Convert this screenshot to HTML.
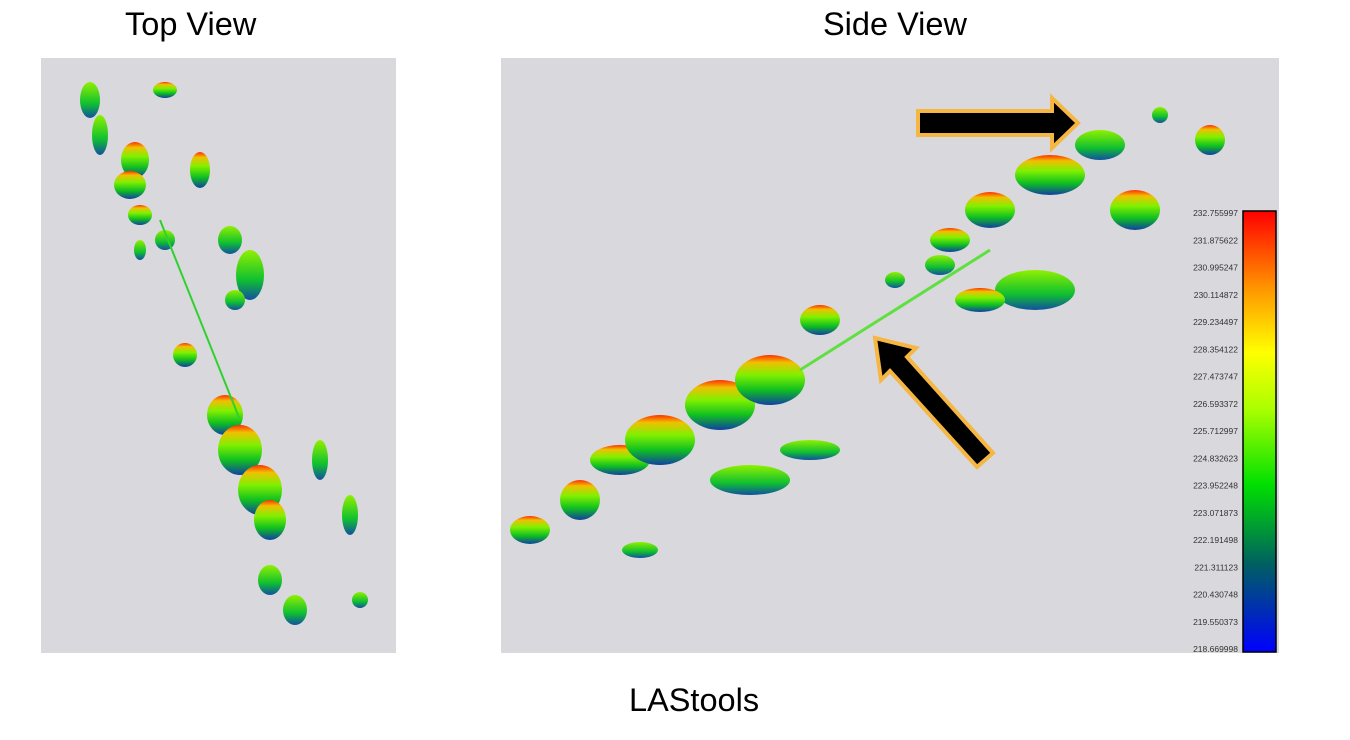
<!DOCTYPE html>
<html><head><meta charset="utf-8"><style>
body{margin:0;width:1350px;height:740px;background:#fff;font-family:"Liberation Sans",sans-serif;overflow:hidden;position:relative}
.t{position:absolute;font-size:32.5px;color:#000}
</style></head><body>
<div class="t" style="left:125px;top:6px">Top View</div>
<div class="t" style="left:823px;top:6px">Side View</div>
<div class="t" style="left:629px;top:682px">LAStools</div>
<svg id="s" width="1350" height="740" style="position:absolute;left:0;top:0">
<defs>
<linearGradient id="cb" x1="0" y1="1" x2="0" y2="0">
<stop offset="0" stop-color="#0000ff"/><stop offset="0.2" stop-color="#006060"/><stop offset="0.38" stop-color="#00e000"/><stop offset="0.55" stop-color="#aaff00"/><stop offset="0.68" stop-color="#ffff00"/><stop offset="0.82" stop-color="#ff9900"/><stop offset="1" stop-color="#ff0000"/></linearGradient>
<linearGradient id="bl" x1="0" y1="1" x2="0" y2="0">
<stop offset="0" stop-color="#1040a0"/><stop offset="0.3" stop-color="#10c020"/><stop offset="0.6" stop-color="#80f000"/><stop offset="0.85" stop-color="#f0c000"/><stop offset="1" stop-color="#ff3000"/></linearGradient>
<linearGradient id="bg" x1="0" y1="1" x2="0" y2="0">
<stop offset="0" stop-color="#1050a0"/><stop offset="0.4" stop-color="#10c030"/><stop offset="1" stop-color="#90f000"/></linearGradient>
</defs>
<rect x="41" y="58" width="355" height="595" fill="#d9d8dc"/>
<rect x="501" y="58" width="778" height="595" fill="#d9d8dc"/>
<g id="top"></g><g id="side"></g>
<line x1="160" y1="220" x2="240" y2="420" stroke="#30d030" stroke-width="2"/>
<line x1="800" y1="370" x2="990" y2="250" stroke="#60e040" stroke-width="3"/>
<rect x="1243" y="211" width="33" height="441" fill="url(#cb)" stroke="#000" stroke-width="1.5"/>
<g id="ticks" font-size="8.5" fill="#333" text-anchor="end"></g>
<polygon points="918,111 1052,111 1052,98 1078,123 1052,148 1052,135 918,135" fill="#000" stroke="#f5b642" stroke-width="4"/>
<polygon points="993,453 907,357 916,348 875,338 881,380 890,371 977,467" fill="#000" stroke="#f5b642" stroke-width="4"/>
</svg>
<script>
const tickLabels=["232.755997","231.875622","230.995247","230.114872","229.234497","228.354122","227.473747","226.593372","225.712997","224.832623","223.952248","223.071873","222.191498","221.311123","220.430748","219.550373","218.669998"];
const NS="http://www.w3.org/2000/svg";
const tg=document.getElementById('ticks');
tickLabels.forEach((l,i)=>{const t=document.createElementNS(NS,'text');


t.setAttribute('x',1238);t.setAttribute('y',216+i*(436/16));t.textContent=l;tg.appendChild(t);});
const topBlobs=[[90,100,10,18,'bg'],[165,90,12,8,'bl'],[100,135,8,20,'bg'],[135,160,14,18,'bl'],[130,185,16,14,'bl'],[200,170,10,18,'bl'],[140,215,12,10,'bl'],[165,240,10,10,'bg'],[230,240,12,14,'bg'],[250,275,14,25,'bg'],[235,300,10,10,'bg'],[185,355,12,12,'bl'],[225,415,18,20,'bl'],[240,450,22,25,'bl'],[260,490,22,25,'bl'],[270,520,16,20,'bl'],[320,460,8,20,'bg'],[350,515,8,20,'bg'],[270,580,12,15,'bg'],[295,610,12,15,'bg'],[360,600,8,8,'bg'],[140,250,6,10,'bg']];
const sideBlobs=[[530,530,20,14,'bl'],[580,500,20,20,'bl'],[620,460,30,15,'bl'],[660,440,35,25,'bl'],[720,405,35,25,'bl'],[770,380,35,25,'bl'],[820,320,20,15,'bl'],[750,480,40,15,'bg'],[810,450,30,10,'bg'],[640,550,18,8,'bg'],[950,240,20,12,'bl'],[990,210,25,18,'bl'],[1050,175,35,20,'bl'],[1100,145,25,15,'bg'],[1135,210,25,20,'bl'],[1210,140,15,15,'bl'],[1035,290,40,20,'bg'],[980,300,25,12,'bl'],[940,265,15,10,'bg'],[895,280,10,8,'bg'],[1160,115,8,8,'bg']];
function draw(g,arr,nm){const G=document.getElementById(g);arr.forEach(b=>{const e=document.createElementNS(NS,'ellipse');


e.setAttribute('cx',b[0]);e.setAttribute('cy',b[1]);e.setAttribute('rx',b[2]);e.setAttribute('ry',b[3]);e.setAttribute('fill','url(#'+b[4]+')');G.appendChild(e);});}
draw('top',topBlobs,'top-view-cluster');draw('side',sideBlobs,'side-view-cluster');
</script>
</body></html>
